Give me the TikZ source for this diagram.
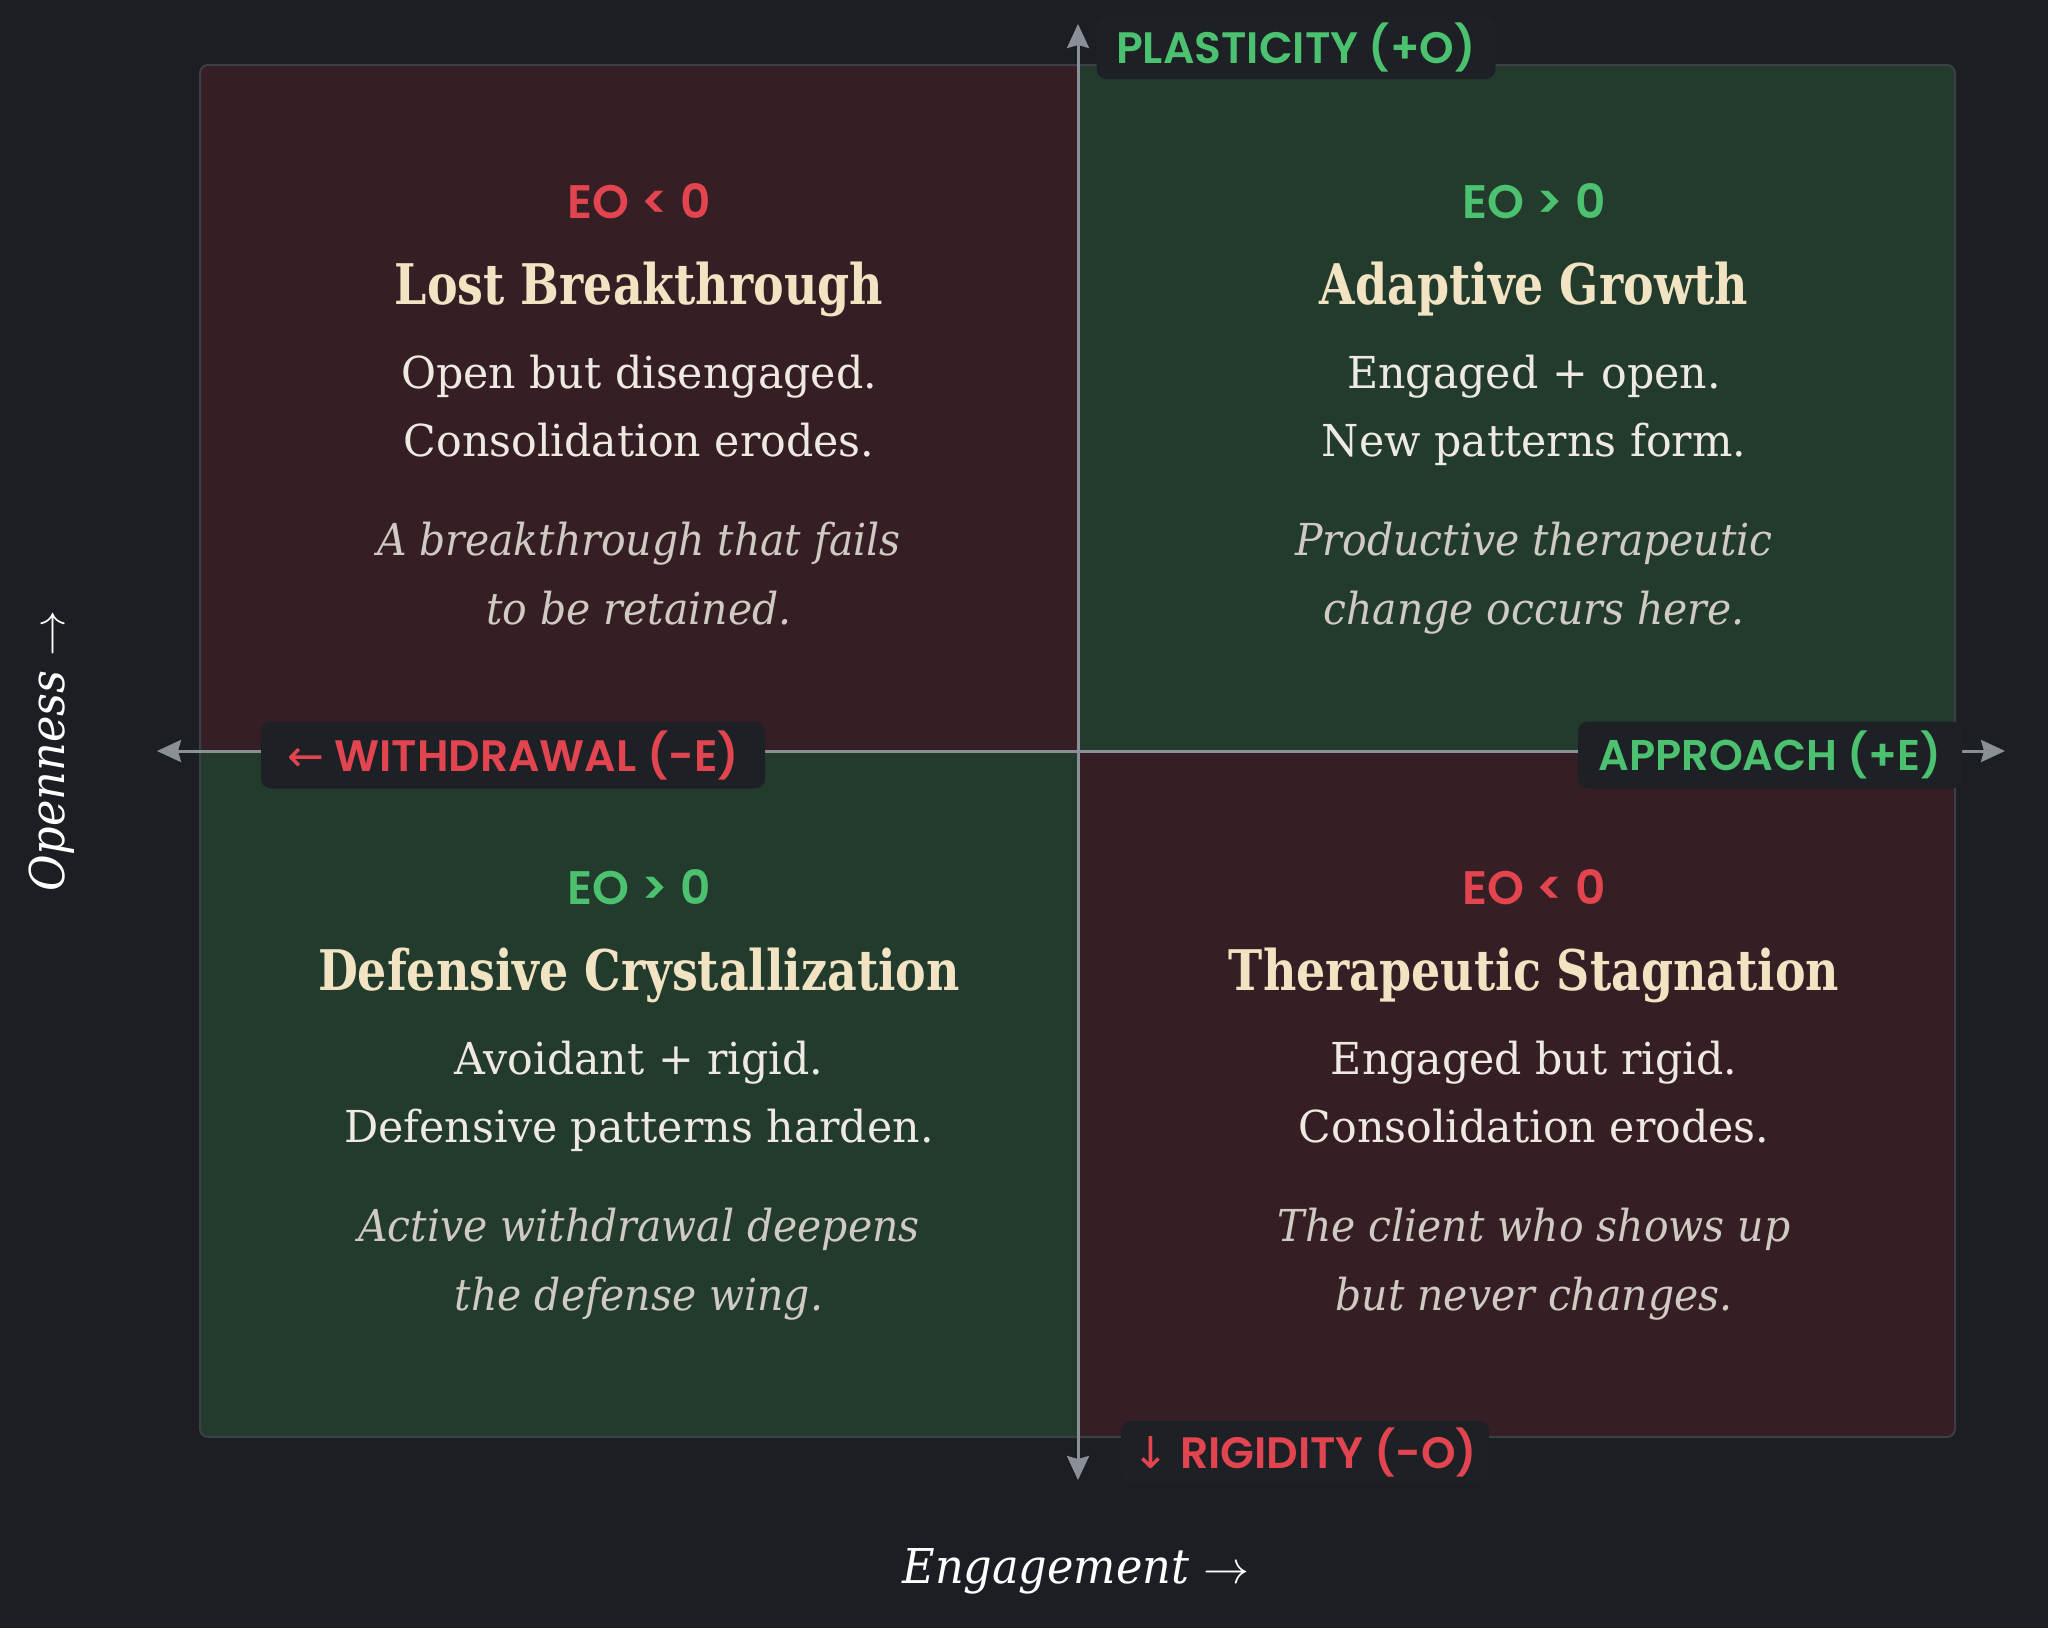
\documentclass[tikz,border=0pt]{standalone}
\usepackage{graphicx}
\usepackage{fontspec}
\usetikzlibrary{arrows.meta}
\newfontfamily\labfont{Poppins SemiBold}
\newfontfamily\arrfont{DejaVu Sans}
\newfontfamily\ttlfont{DejaVu Serif Bold}[FakeStretch=0.82]
\newfontfamily\bodyfont{DejaVu Serif}[FakeStretch=0.97]
\newfontfamily\itfont{DejaVu Serif Italic}[FakeStretch=0.93]
\definecolor{bg}{HTML}{1B1F24}
\definecolor{redq}{HTML}{361E25}
\definecolor{greenq}{HTML}{223B2D}
\definecolor{gridline}{HTML}{3C3F46}
\definecolor{labbg}{HTML}{1D2126}
\definecolor{redt}{HTML}{E2454F}
\definecolor{greent}{HTML}{4CC270}
\definecolor{cream}{HTML}{F2E4C2}
\definecolor{bodyc}{HTML}{EEEAE2}
\definecolor{itc}{HTML}{CFCAC2}
\definecolor{axisc}{HTML}{8B9097}
\newcommand{\eosp}{\hspace{12pt}}
\newcommand{\bigarrow}{\scalebox{4.6}{\fontsize{10}{12}\selectfont$\rightarrow$}}
\tikzset{
  axisline/.style={draw=axisc, line width=3pt, {Stealth[length=24pt,width=22pt,inset=3pt]}-{Stealth[length=24pt,width=22pt,inset=3pt]}},
  labbox/.style={fill=labbg, rounded corners=10pt, inner sep=0pt, align=center,
    font=\labfont\fontsize{44}{52}\selectfont},
  eo/.style={anchor=base, font=\labfont\fontsize{47}{56}\selectfont},
  ttl/.style={anchor=base, text=cream, font=\ttlfont\fontsize{56}{66}\selectfont},
  body/.style={anchor=base, text=bodyc, font=\bodyfont\fontsize{44}{52}\selectfont},
  itl/.style={anchor=base, text=itc, font=\itfont\fontsize{44}{52}\selectfont},
  axlab/.style={text=white, font=\itfont\fontsize{48}{56}\selectfont}
}
\begin{document}
\begin{tikzpicture}[x=1pt,y=-1pt]
\fill[bg] (0,0) rectangle (2048,1628);
\useasboundingbox (0,0) rectangle (2048,1628);
% quadrants
\begin{scope}
\clip[rounded corners=8pt] (200,65) rectangle (1955,1437);
\fill[redq] (200,65) rectangle (1078,751);
\fill[greenq] (1078,65) rectangle (1955,751);
\fill[greenq] (200,751) rectangle (1078,1437);
\fill[redq] (1078,751) rectangle (1955,1437);
\end{scope}
\draw[gridline, line width=2pt, rounded corners=8pt] (200,65) rectangle (1955,1437);
% axes
\coordinate (ytop) at (1078,24);
\coordinate (ybot) at (1078,1480);
\coordinate (xl) at (157,751);
\coordinate (xr) at (2005,751);
\draw[axisline] (ybot) -- (ytop);
\draw[axisline] (xl) -- (xr);
% axis labels
\node[labbox, text=greent, minimum width=399pt, minimum height=62pt] (plast) at (1296,48) {PLASTICITY (+O)};
\node[labbox, text=redt, minimum width=504pt, minimum height=67pt] (withd) at (513,755) {{\arrfont ←}\ WITHDRAWAL (-E)};
\node[labbox, text=greent, minimum width=384pt, minimum height=67pt, font=\labfont\fontsize{43}{52}\selectfont] (appr) at (1770,755) {APPROACH (+E)};
\node[labbox, text=redt, minimum width=368pt, minimum height=62pt] (rigid) at (1305,1452) {{\arrfont ↓}\ RIGIDITY (-O)};
\node[axlab] (engage) at (1076,1571) {Engagement \bigarrow};
\node[axlab, rotate=90] (open) at (52,751) {Openness \bigarrow};
% top-left
\node[eo, text=redt] (tleo) at (639,218) {EO\eosp<\eosp0};
\node[ttl] (tlt) at (639,304) {Lost Breakthrough};
\node[body] (tlb1) at (639,388) {Open but disengaged.};
\node[body] (tlb2) at (639,456) {Consolidation erodes.};
\node[itl] (tli1) at (639,555) {A breakthrough that fails};
\node[itl] (tli2) at (639,624) {to be retained.};
% top-right
\node[eo, text=greent] (treo) at (1534,218) {EO\eosp>\eosp0};
\node[ttl] (trt) at (1534,304) {Adaptive Growth};
\node[body] (trb1) at (1534,388) {Engaged + open.};
\node[body] (trb2) at (1534,456) {New patterns form.};
\node[itl] (tri1) at (1534,555) {Productive therapeutic};
\node[itl] (tri2) at (1534,624) {change occurs here.};
% bottom-left
\node[eo, text=greent] (bleo) at (639,904) {EO\eosp>\eosp0};
\node[ttl] (blt) at (639,990) {Defensive Crystallization};
\node[body] (blb1) at (639,1074) {Avoidant + rigid.};
\node[body] (blb2) at (639,1142) {Defensive patterns harden.};
\node[itl] (bli1) at (639,1241) {Active withdrawal deepens};
\node[itl] (bli2) at (639,1310) {the defense wing.};
% bottom-right
\node[eo, text=redt] (breo) at (1534,904) {EO\eosp<\eosp0};
\node[ttl] (brt) at (1534,990) {Therapeutic Stagnation};
\node[body] (brb1) at (1534,1074) {Engaged but rigid.};
\node[body] (brb2) at (1534,1142) {Consolidation erodes.};
\node[itl] (bri1) at (1534,1241) {The client who shows up};
\node[itl] (bri2) at (1534,1310) {but never changes.};
\end{tikzpicture}
\end{document}
